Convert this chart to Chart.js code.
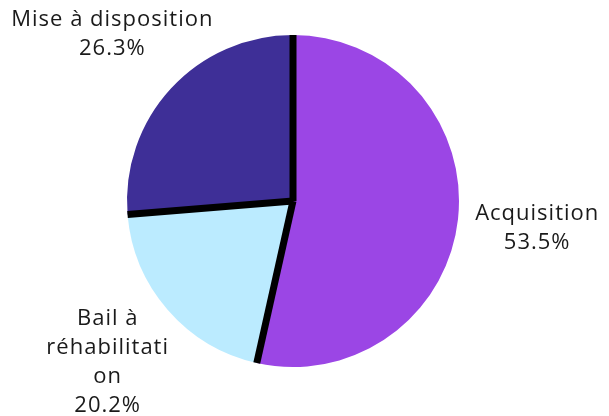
<!DOCTYPE html>
<html>
<head>
<meta charset="utf-8">
<script src="https://cdn.jsdelivr.net/npm/chart.js@4"></script>
<style>
html,body{margin:0;padding:0;background:#fff;}
#wrap{width:609px;height:416px;}
</style>
</head>
<body>
<div id="wrap"><canvas id="c" width="609" height="416"></canvas></div>
<script>
const categories = ["Acquisition", "Bail à réhabilitation", "Mise à disposition"];
const labelLines = [["Acquisition"], ["Bail à", "réhabilitati", "on"], ["Mise à disposition"]];
const values = [53.5, 20.2, 26.3];
const colors = ["#9b46e5", "#bbebff", "#3e2f97"];

const separators = {
  id: 'separators',
  afterDatasetsDraw(chart) {
    const ctx = chart.ctx;
    const arcs = chart.getDatasetMeta(0).data;
    ctx.save();
    ctx.strokeStyle = '#000';
    ctx.lineWidth = 7;
    ctx.lineCap = 'butt';
    arcs.forEach(a => {
      const ang = a.startAngle;
      ctx.beginPath();
      ctx.moveTo(a.x, a.y);
      ctx.lineTo(a.x + Math.cos(ang) * a.outerRadius, a.y + Math.sin(ang) * a.outerRadius);
      ctx.stroke();
    });
    ctx.restore();
  }
};

const outLabels = {
  id: 'outLabels',
  afterDraw(chart) {
    const ctx = chart.ctx;
    const arcs = chart.getDatasetMeta(0).data;
    const ds = chart.data.datasets[0].data;
    ctx.save();
    ctx.font = '22px "Open Sans", sans-serif';
    if ('letterSpacing' in ctx) ctx.letterSpacing = '1px';
    ctx.fillStyle = '#1a1a1a';
    ctx.textAlign = 'center';
    ctx.textBaseline = 'middle';
    const lh = 29;
    arcs.forEach((a, i) => {
      const mid = (a.startAngle + a.endAngle) / 2;
      const d = a.outerRadius * 1.48;
      const cx = a.x + Math.cos(mid) * d;
      const cy = a.y + Math.sin(mid) * d;
      const lines = labelLines[i].concat([ds[i].toFixed(1) + '%']);
      const top = cy - (lines.length - 1) * lh / 2;
      lines.forEach((t, j) => ctx.fillText(t, cx, top + j * lh));
    });
    ctx.restore();
  }
};

new Chart(document.getElementById('c'), {
  type: 'pie',
  data: {
    labels: categories,
    datasets: [{
      data: values,
      backgroundColor: colors,
      borderWidth: 0
    }]
  },
  options: {
    responsive: false,
    animation: false,
    layout: { padding: { left: 127, right: 150, top: 35, bottom: 49 } },
    plugins: { legend: { display: false }, tooltip: { enabled: false } }
  },
  plugins: [separators, outLabels]
});
</script>
</body>
</html>
